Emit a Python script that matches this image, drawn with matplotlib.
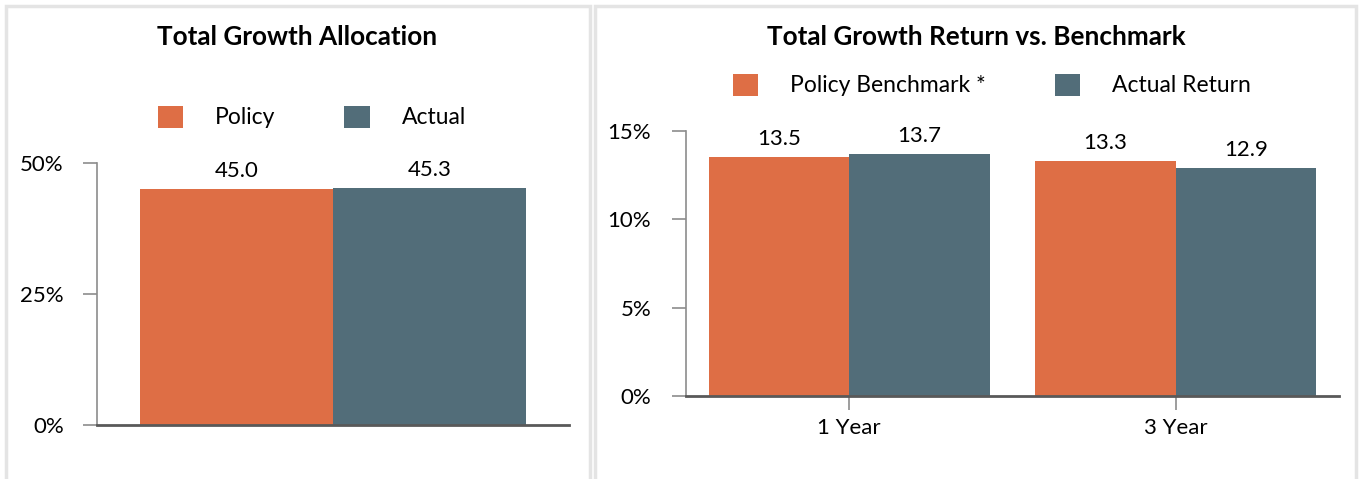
import matplotlib.pyplot as plt
from matplotlib.patches import Rectangle

# Donnees
alloc_labels = ["Policy", "Actual"]
alloc_values = [45.0, 45.3]
alloc_ticks = [0, 25, 50]

return_categories = ["1 Year", "3 Year"]
benchmark_values = [13.5, 13.3]
actual_values = [13.7, 12.9]
return_labels = ["Policy Benchmark *", "Actual Return"]
return_ticks = [0, 5, 10, 15]

ORANGE = "#DE6E45"
SLATE = "#526D79"
W, H = 1359, 479

plt.rcParams['font.family'] = ['Lato', 'DejaVu Sans']

fig = plt.figure(figsize=(W / 100, H / 100), dpi=100)

# Cadres gris des deux panneaux
for x0, x1 in [(6, 590), (595, 1356)]:
    fig.patches.append(Rectangle((x0 / W, -0.05), (x1 - x0) / W, 1.05 - 6 / H,
                                 transform=fig.transFigure, fill=False,
                                 edgecolor="#e4e4e4", linewidth=2.5))


def style_axes(ax, ticks, ypad):
    for s in ["top", "right"]:
        ax.spines[s].set_visible(False)
    ax.spines["left"].set_color("#8c8c8c")
    ax.spines["left"].set_linewidth(1.2)
    ax.spines["bottom"].set_color("#595959")
    ax.spines["bottom"].set_linewidth(2)
    ax.set_yticks(ticks)
    ax.set_yticklabels([f"{t}%" for t in ticks])
    ax.tick_params(axis="y", length=10, width=1.2, color="#8c8c8c", labelsize=16, pad=ypad)
    ax.tick_params(axis="x", length=10, width=1.2, color="#8c8c8c", labelsize=16, pad=6)


def label_bars(ax, bars):
    for r in bars:
        ax.annotate(f"{r.get_height():.1f}", (r.get_x() + r.get_width() / 2, r.get_height()),
                    xytext=(0, 13), textcoords="offset points", ha="center", va="center", fontsize=16)


leg_kw = dict(loc="center", ncol=2, frameon=False, fontsize=16.5, handlelength=1.1,
              handleheight=1.1, handletextpad=1.4, columnspacing=3.0)

# --- Panneau gauche ---
ax1 = fig.add_axes([97 / W, 1 - 425 / H, (569 - 97) / W, (425 - 163) / H])
bw = 0.409
b1 = ax1.bar(-bw / 2, alloc_values[0], width=bw, color=ORANGE, label=alloc_labels[0])
b2 = ax1.bar(bw / 2, alloc_values[1], width=bw, color=SLATE, label=alloc_labels[1])
ax1.set_xlim(-0.5, 0.5)
ax1.set_ylim(0, 50)
style_axes(ax1, alloc_ticks, 14)
ax1.set_xticks([])
label_bars(ax1, b1)
label_bars(ax1, b2)
fig.text(297 / W, 1 - 37 / H, "Total Growth Allocation", ha="center", va="center",
         fontsize=18.8, fontweight="bold")
fig.legend(handles=[b1, b2], labels=alloc_labels, bbox_to_anchor=(312 / W, 1 - 117 / H), **leg_kw)

# --- Panneau droit ---
ax2 = fig.add_axes([686 / W, 1 - 396 / H, (1339 - 686) / W, (396 - 131) / H])
xs = list(range(len(return_categories)))
bw2 = 0.43
r1 = ax2.bar([x - bw2 / 2 for x in xs], benchmark_values, width=bw2, color=ORANGE, label=return_labels[0])
r2 = ax2.bar([x + bw2 / 2 for x in xs], actual_values, width=bw2, color=SLATE, label=return_labels[1])
ax2.set_xlim(-0.5, len(xs) - 0.5)
ax2.set_ylim(0, 15)
style_axes(ax2, return_ticks, 15)
ax2.set_xticks(xs)
ax2.set_xticklabels(return_categories)
label_bars(ax2, r1)
label_bars(ax2, r2)
fig.text(976 / W, 1 - 37 / H, "Total Growth Return vs. Benchmark", ha="center", va="center",
         fontsize=18.8, fontweight="bold")
fig.legend(handles=[r1, r2], labels=return_labels, bbox_to_anchor=(992 / W, 1 - 85 / H), **leg_kw)

fig.savefig("out.png", dpi=100)
